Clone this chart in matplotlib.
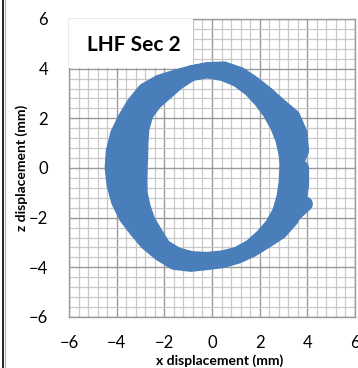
import matplotlib
matplotlib.use("Agg")
import matplotlib.pyplot as plt
from matplotlib.lines import Line2D
from matplotlib.patches import Rectangle
from matplotlib.ticker import MultipleLocator

# Displacement trace (mm), one list per cycle, clockwise from the right side
cycle_x = [
    [3.76, 3.76, 3.63, 3.34, 2.86, 2.27, 1.70, 1.09, 0.46, -0.20, -0.89, -1.58,
     -2.19, -2.73, -3.18, -3.60, -3.92, -4.11, -4.19, -4.14, -3.96, -3.65, -3.28, -2.82,
     -2.20, -1.53, -0.88, -0.20, 0.50, 1.17, 1.76, 2.30, 2.82, 3.39, 3.69, 3.76],
    [3.45, 3.43, 3.33, 3.09, 2.70, 2.19, 1.66, 1.08, 0.45, -0.20, -0.87, -1.53,
     -2.11, -2.56, -2.94, -3.25, -3.47, -3.57, -3.60, -3.57, -3.47, -3.29, -3.03, -2.61,
     -2.07, -1.49, -0.88, -0.20, 0.49, 1.13, 1.69, 2.19, 2.63, 3.06, 3.33, 3.43],
    [3.14, 3.11, 3.02, 2.84, 2.53, 2.11, 1.63, 1.06, 0.44, -0.20, -0.85, -1.47,
     -2.03, -2.39, -2.70, -2.89, -3.01, -3.02, -3.01, -2.99, -2.98, -2.94, -2.77, -2.41,
     -1.95, -1.45, -0.87, -0.20, 0.47, 1.09, 1.63, 2.07, 2.44, 2.74, 2.97, 3.10],
]
cycle_z = [
    [0.00, -0.70, -1.39, -2.05, -2.57, -2.94, -3.28, -3.55, -3.73, -3.81, -3.88, -3.80,
     -3.44, -3.01, -2.50, -1.97, -1.35, -0.69, 0.00, 0.70, 1.37, 1.99, 2.58, 3.12,
     3.46, 3.66, 3.83, 3.96, 3.99, 3.77, 3.39, 2.98, 2.53, 2.07, 1.42, 0.70],
    [0.00, -0.64, -1.28, -1.90, -2.44, -2.85, -3.22, -3.52, -3.68, -3.75, -3.77, -3.65,
     -3.30, -2.81, -2.30, -1.76, -1.19, -0.60, 0.00, 0.60, 1.19, 1.79, 2.37, 2.87,
     3.24, 3.55, 3.82, 3.94, 3.90, 3.67, 3.27, 2.84, 2.38, 1.89, 1.29, 0.64],
    [0.00, -0.58, -1.17, -1.76, -2.30, -2.76, -3.17, -3.47, -3.62, -3.68, -3.65, -3.49,
     -3.16, -2.61, -2.10, -1.56, -1.02, -0.50, 0.00, 0.49, 1.01, 1.58, 2.16, 2.63,
     3.02, 3.44, 3.80, 3.91, 3.80, 3.55, 3.16, 2.70, 2.22, 1.70, 1.15, 0.58],
]
# final stretch of the record, ending at the last sample
end_x = [3.40, 3.92]
end_z = [-1.90, -1.45]

x_ticks = [-6, -4, -2, 0, 2, 4, 6]
z_ticks = [-6, -4, -2, 0, 2, 4, 6]

plt.rcParams['font.family'] = ['Lato', 'DejaVu Sans']

fig = plt.figure(figsize=(3.58, 3.68), dpi=100)
ax = fig.add_axes([0.1927, 0.1386, 0.7989, 0.8098])

xs = [v for c in cycle_x for v in c] + end_x
zs = [v for c in cycle_z for v in c] + end_z
ax.plot(xs, zs, color='#4a7ebb', lw=10.8, solid_joinstyle='round',
        solid_capstyle='round', zorder=4)

ax.set_xlim(-6, 6)
ax.set_ylim(-6, 6)
ax.set_xticks(x_ticks)
ax.set_yticks(z_ticks)
ax.xaxis.set_minor_locator(MultipleLocator(0.4))
ax.yaxis.set_minor_locator(MultipleLocator(0.4))
ax.grid(which='major', color='#9a9a9a', lw=1.0)
ax.grid(which='minor', color='#c8c8c8', lw=0.9)
ax.set_axisbelow(True)
ax.tick_params(which='both', length=0, labelsize=12, colors='black')
ax.tick_params(axis='x', pad=13)
ax.tick_params(axis='y', pad=15)
for s in ax.spines.values():
    s.set_color('#9a9a9a')
    s.set_linewidth(1.0)

ax.set_xlabel('x displacement (mm)', fontsize=10, fontweight='bold')
ax.set_ylabel('z displacement (mm)', fontsize=10, fontweight='bold')
ax.xaxis.set_label_coords(0.528, -0.125)
ax.yaxis.set_label_coords(-0.145, 0.5)

# title box sitting over the grid in the top left corner
ax.add_patch(Rectangle((0, 0.835), 0.434, 0.165, transform=ax.transAxes,
                       facecolor='white', edgecolor='none', zorder=3))
ax.text(0.227, 0.913, 'LHF Sec 2', transform=ax.transAxes, fontsize=15,
        fontweight='bold', ha='center', va='center', zorder=5)

# chart frame edge on the left
fig.add_artist(Line2D([0.007, 0.007], [0, 1], color='black', lw=1.2))
fig.add_artist(Line2D([0.013, 0.013], [0, 1], color='#b0b0b0', lw=0.8))

fig.savefig('out.png', dpi=100)
